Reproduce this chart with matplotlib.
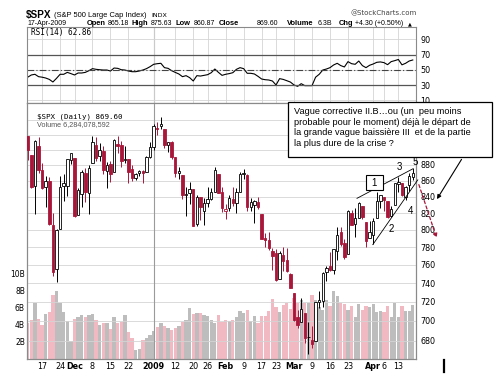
import matplotlib
matplotlib.use("Agg")
import matplotlib.pyplot as plt
import numpy as np
from matplotlib.patches import Rectangle, FancyArrowPatch
from matplotlib.lines import Line2D
from matplotlib.ticker import NullLocator, NullFormatter

# daily S&P 500, 11-Nov-2008 .. 17-Apr-2009
opens = [918.17, 893.39, 853.13, 904.36, 873.23, 852.34, 859.03, 805.87, 755.84, 801.20,
         853.40, 852.90, 886.89, 888.61, 817.94, 843.60, 869.75, 844.43, 882.71, 906.48,
         892.17, 898.35, 871.79, 881.07, 871.53, 908.16, 905.98, 886.96, 887.20, 874.31,
         863.87, 869.51, 872.37, 870.58, 890.59, 902.99, 929.17, 931.17, 927.45, 905.73,
         909.91, 890.40, 869.79, 867.28, 841.99, 844.45, 849.64, 806.77, 839.74, 822.16,
         832.50, 837.30, 845.73, 868.89, 845.69, 823.09, 825.69, 837.77, 831.75, 846.09,
         868.24, 866.87, 827.41, 829.91, 833.95, 818.61, 791.06, 787.91, 775.87, 773.25,
         744.69, 770.64, 765.76, 749.93, 729.57, 704.44, 698.60, 708.27, 684.04, 680.76,
         679.28, 720.02, 720.89, 751.97, 758.84, 753.88, 776.01, 797.92, 784.58, 772.31,
         820.60, 806.81, 814.06, 828.68, 809.07, 790.88, 793.59, 814.53, 835.13, 839.75,
         834.12, 816.76, 829.29, 855.33, 856.88, 839.44, 854.54, 865.18]
highs = [918.17, 893.39, 913.01, 916.88, 882.29, 865.90, 864.57, 820.52, 801.20, 865.60,
         868.94, 887.68, 896.25, 888.61, 850.54, 873.12, 875.60, 879.42, 918.57, 916.26,
         908.27, 904.63, 883.24, 884.63, 914.66, 918.85, 911.02, 905.47, 887.37, 880.44,
         869.79, 873.74, 873.70, 891.12, 910.32, 934.73, 936.63, 943.85, 927.45, 910.00,
         911.93, 890.40, 877.02, 867.28, 851.59, 858.13, 849.64, 841.72, 839.74, 838.61,
         852.53, 850.45, 877.86, 868.89, 851.66, 830.78, 842.60, 851.85, 850.55, 870.75,
         875.01, 868.05, 838.22, 835.48, 839.43, 818.61, 796.17, 797.58, 778.69, 777.85,
         775.49, 780.12, 779.42, 751.27, 729.57, 711.67, 724.12, 708.27, 699.09, 695.27,
         719.60, 731.92, 752.63, 758.29, 774.53, 778.12, 803.04, 803.24, 788.91, 823.37,
         823.65, 826.78, 832.98, 828.68, 809.07, 810.48, 813.62, 845.61, 842.50, 839.75,
         834.12, 828.42, 856.91, 864.31, 856.88, 852.93, 870.35, 875.63]
lows = [886.98, 850.48, 818.69, 869.88, 848.98, 826.84, 806.18, 747.78, 741.02, 801.20,
        834.99, 841.37, 881.21, 815.69, 817.94, 827.60, 833.60, 818.41, 882.71, 885.38,
        885.45, 868.73, 851.35, 857.72, 871.53, 895.94, 877.44, 883.02, 857.09, 860.10,
        861.44, 866.52, 857.07, 870.58, 889.67, 899.35, 919.53, 927.28, 902.37, 896.81,
        888.31, 864.32, 862.02, 836.93, 817.04, 830.66, 804.47, 804.30, 811.29, 806.07,
        827.69, 835.40, 845.73, 844.15, 821.67, 812.87, 821.98, 829.18, 819.91, 845.42,
        861.65, 822.99, 822.30, 808.06, 825.21, 789.17, 780.43, 777.03, 754.25, 742.37,
        744.69, 752.89, 751.75, 734.52, 699.70, 692.30, 698.60, 677.93, 666.79, 672.88,
        679.28, 713.85, 714.76, 742.46, 753.37, 749.93, 765.64, 781.82, 766.20, 772.31,
        805.48, 791.37, 814.06, 813.43, 779.81, 790.88, 783.32, 814.53, 826.70, 822.79,
        814.53, 814.84, 829.29, 845.35, 840.25, 835.58, 847.04, 860.87]
closes = [898.95, 852.30, 911.29, 873.29, 850.75, 859.12, 806.58, 752.44, 800.03, 851.81,
          857.39, 887.68, 896.24, 816.21, 848.81, 870.74, 845.22, 876.07, 909.70, 888.67,
          899.24, 873.59, 879.73, 868.57, 913.18, 904.42, 885.28, 887.88, 871.63, 863.16,
          868.15, 872.80, 869.42, 890.64, 903.25, 931.80, 927.45, 934.70, 906.65, 909.73,
          890.35, 870.26, 871.79, 842.62, 843.74, 850.12, 805.22, 840.24, 827.50, 831.95,
          836.57, 845.71, 874.09, 845.14, 825.88, 825.44, 838.51, 832.23, 845.85, 868.60,
          869.89, 827.16, 833.74, 835.19, 826.84, 789.17, 788.42, 778.94, 770.05, 743.33,
          773.14, 764.90, 752.83, 735.09, 700.82, 696.33, 712.87, 682.55, 683.38, 676.53,
          719.60, 721.36, 750.74, 756.55, 753.89, 778.12, 794.35, 784.04, 768.54, 822.92,
          806.12, 813.88, 832.86, 815.94, 787.53, 797.87, 811.08, 834.38, 842.50, 835.48,
          815.55, 825.16, 856.56, 858.73, 841.50, 852.06, 865.30, 869.60]
prev_close0 = 919.21

# volume, billions
volumes = [4.15, 4.6, 6.5, 4.7, 4.0, 5.2, 5.5, 7.5, 7.9, 6.5,
           5.5, 4.4, 2.1, 4.7, 4.85, 5.1, 4.9, 5.1, 5.2, 4.55,
           4.0, 4.2, 4.15, 3.45, 4.85, 4.15, 4.35, 5.1, 3.2, 2.4,
           1.05, 1.2, 2.2, 2.5, 2.8, 3.3, 3.75, 4.15, 3.8, 3.6,
           3.4, 3.6, 3.9, 4.3, 4.5, 5.9, 5.2, 5.4, 5.4, 5.1,
           5.0, 4.6, 4.2, 5.1, 4.3, 4.6, 4.45, 4.6, 4.85, 5.6,
           5.4, 5.7, 4.4, 5.0, 4.25, 5.0, 5.0, 5.6, 7.0, 6.1,
           5.5, 6.3, 6.5, 5.8, 7.1, 6.5, 6.9, 6.5, 6.5, 7.5,
           6.9, 6.05, 5.75, 6.9, 6.2, 8.0, 7.3, 6.5, 6.4, 5.75,
           6.2, 4.95, 6.4, 5.75, 6.2, 6.05, 6.4, 5.5, 5.6, 5.5,
           6.2, 4.95, 6.5, 4.95, 6.2, 5.6, 5.6, 6.28]

rsi = [40.3, 43.2, 44.1, 41.0, 40.3, 39.2, 37.4, 34.0, 38.8, 44.1,
       44.1, 46.6, 45.0, 43.2, 45.8, 45.8, 46.6, 48.8, 51.5, 50.6,
       50.1, 49.7, 49.7, 48.4, 52.3, 51.9, 50.1, 49.7, 48.4, 47.5,
       47.5, 48.4, 49.7, 51.5, 54.1, 57.2, 58.0, 58.5, 52.8, 51.9,
       48.8, 46.6, 44.5, 41.0, 42.3, 39.7, 35.3, 42.3, 41.8, 42.7,
       43.6, 46.2, 51.0, 46.6, 42.7, 44.1, 45.0, 46.2, 50.6, 52.8,
       51.5, 45.4, 45.4, 44.5, 41.4, 37.9, 37.0, 36.6, 35.3, 30.1,
       38.4, 37.4, 35.7, 33.9, 30.1, 28.3, 31.8, 29.2, 29.2, 29.2,
       40.3, 44.1, 49.7, 51.0, 52.8, 56.3, 58.5, 55.5, 53.7, 60.7,
       58.0, 57.2, 61.5, 55.5, 52.8, 55.9, 57.6, 59.8, 60.3, 59.4,
       56.7, 60.7, 62.0, 63.5, 56.5, 58.5, 61.5, 62.86]

# x axis labels (trading-day index)
tick_pos = [4, 9, 13, 18, 23, 28, 35, 41, 46, 50, 55, 60, 65, 69, 74, 79, 84, 89, 96, 99, 103]
tick_lab = ["17", "24", "Dec", "8", "15", "22", "2009", "12", "20", "26", "Feb", "9",
            "17", "23", "Mar", "9", "16", "23", "Apr", "6", "13"]
bold_lab = ["Dec", "2009", "Feb", "Mar", "Apr"]

price_ticks = [680, 700, 720, 740, 760, 780, 800, 820, 840, 860, 880, 900, 920, 940]
price_labeled = [680, 700, 720, 740, 760, 780, 800, 820, 840, 860, 880]
vol_ticks = [2, 4, 6, 8, 10]
rsi_ticks = [10, 30, 50, 70, 90]

# elliott wedge (index, price)
upper_x, upper_y = [91.5, 107.0], [838, 875]
lower_x, lower_y = [95.9, 108.4], [783, 861]

RED = "#a8163a"
W, H = 499, 378


def fx(x):
    return x / W


def fy(y):
    return 1 - y / H


fig = plt.figure(figsize=(W / 100, H / 100), dpi=100)
fig.patch.set_facecolor("white")

L, R = 27, 416
ax_rsi = fig.add_axes([fx(L), fy(103), (R - L) / W, (103 - 27) / H])
ax_vol = fig.add_axes([fx(L), fy(359), (R - L) / W, (359 - 103) / H])
ax = ax_vol.twinx()

xs = np.arange(len(closes))
prev = np.array([prev_close0] + closes[:-1])
c = np.array(closes)
o = np.array(opens)
up_day = c > prev
col = np.where(up_day, "black", RED)

# volume
vcol = np.where(up_day, "#bdbdbd", "#f1b9c2")
ax_vol.bar(xs, volumes, width=0.92, color=vcol, linewidth=0)
ax_vol.set_ylim(0, 29.9)
ax_vol.set_yticks(vol_ticks)
ax_vol.set_yticklabels([f"{v}B" for v in vol_ticks])
ax_vol.tick_params(axis="y", length=0, pad=1.5, labelsize=5.5)
xmin, xmax = -0.2, 107.9
ax_vol.set_xlim(xmin, xmax)
ax_vol.set_xticks(tick_pos)
ax_vol.set_xticklabels(tick_lab)
ax_vol.tick_params(axis="x", length=0, pad=2.5, labelsize=5.8)
for t in ax_vol.get_xticklabels():
    if t.get_text() in bold_lab:
        t.set_fontweight("bold")

# price candles
ax.set_yscale("log")
ax.set_ylim(662, 963.8)
ax.yaxis.set_minor_locator(NullLocator())
ax.yaxis.set_minor_formatter(NullFormatter())
ax.set_yticks(price_ticks)
ax.set_yticklabels([str(p) if p in price_labeled else "" for p in price_ticks])
ax.tick_params(axis="y", length=0, pad=3, labelsize=5.8)
ax.set_axisbelow(True)
ax.grid(True, color="#d4d4d4", lw=0.6)
ax.axvline(35, color="#9a9a9a", lw=0.8, zorder=0.6)

ax.vlines(xs, lows, highs, colors=col, lw=0.7, zorder=2)
bottoms = np.minimum(o, c)
heights = np.maximum(np.abs(c - o), 0.6)
face = [("white" if cc > oo else cl) for cc, oo, cl in zip(c, o, col)]
ax.bar(xs, heights, bottom=bottoms, width=0.68, color=face, edgecolor=col,
       linewidth=0.6, zorder=3)

ax.plot(upper_x, upper_y, color="black", lw=0.6, zorder=4, clip_on=False)
ax.plot(lower_x, lower_y, color="black", lw=0.6, zorder=4, clip_on=False)

# RSI panel
ax_rsi.plot(xs, rsi, color="black", lw=0.8)
ax_rsi.set_xlim(xmin, xmax)
ax_rsi.set_ylim(6.46, 106.1)
ax_rsi.set_xticks(tick_pos)
ax_rsi.set_xticklabels([])
ax_rsi.set_yticks(rsi_ticks)
ax_rsi.yaxis.tick_right()
ax_rsi.tick_params(axis="both", length=0, pad=3, labelsize=5.8)
ax_rsi.grid(True, color="#d4d4d4", lw=0.6)
ax_rsi.axvline(35, color="#9a9a9a", lw=0.8, zorder=0.6)
ax_rsi.axhline(70, color="#555555", lw=0.9)
ax_rsi.axhline(30, color="#555555", lw=0.9)
ax_rsi.axhline(50, color="#444444", lw=0.8, dashes=(6, 2, 1, 2))

for a in (ax_rsi, ax_vol, ax):
    for s in a.spines.values():
        s.set_color("#8a8a8a")
        s.set_linewidth(0.8)

# header
fig.text(fx(26), fy(15), "$SPX", fontsize=7.2, fontweight="bold",
         family="Liberation Sans", va="center")
fig.text(fx(54), fy(15.5), "(S&P 500 Large Cap Index)", fontsize=5.4,
         family="Liberation Sans", va="center")
fig.text(fx(151), fy(15.5), "INDX", fontsize=4.6, va="center")
fig.text(fx(417), fy(13), "@StockCharts.com", fontsize=5.0, color="#444444",
         ha="right", va="center")
hy = fy(23.5)
chg = closes[-1] - closes[-2]
hdr = [(27, "17-Apr-2009", "normal"), (87, "Open", "bold"), (107.5, f"{opens[-1]:.2f}", "normal"),
       (131.7, "High", "bold"), (150.7, f"{highs[-1]:.2f}", "normal"),
       (176, "Low", "bold"), (193.3, f"{lows[-1]:.2f}", "normal"),
       (218.3, "Close", "bold"), (256.7, f"{closes[-1]:.2f}", "normal"),
       (286.7, "Volume", "bold"), (318, f"{volumes[-1]:.1f}B", "normal"),
       (338.3, "Chg", "bold"), (355, f"+{chg:.2f} (+{chg / closes[-2] * 100:.2f}%)", "normal")]
for x, s, w in hdr:
    fig.text(fx(x), hy, s, fontsize=5.0 if w == "normal" else 5.4, fontweight=w,
             family="Liberation Sans", va="center")
fig.text(fx(408), hy, "\u25b2", fontsize=3.6, va="center")

fig.text(fx(31), fy(32), f"RSI(14) {rsi[-1]:.2f}", fontsize=5.6,
         family="DejaVu Sans Mono", va="center")
fig.text(fx(37), fy(117), f"$SPX (Daily) {closes[-1]:.2f}", fontsize=5.4,
         family="DejaVu Sans Mono", va="center")
fig.text(fx(37), fy(125), "Volume 6,284,078,592", fontsize=5.2, color="#555555",
         family="Liberation Sans", va="center")

# comment box
box = Rectangle((fx(288), fy(157)), (492 - 288) / W, (157 - 102) / H,
                transform=fig.transFigure, facecolor="white", edgecolor="black",
                lw=0.9, zorder=5)
fig.add_artist(box)
lines = ["Vague corrective II.B\u2026ou (un  peu moins",
         "probable pour le moment) d\u00e9j\u00e0 le d\u00e9part de",
         "la grande vague baissi\u00e8re III  et de la partie",
         "la plus dure de la crise ?"]
for i, s in enumerate(lines):
    fig.text(fx(294.5), fy(111.7 + 10.6 * i), s, fontsize=6.6, family="Liberation Sans",
             va="center", zorder=6)

box1 = Rectangle((fx(365.7), fy(190)), 17 / W, 15 / H, transform=fig.transFigure,
                 facecolor="white", edgecolor="black", lw=0.8, zorder=5)
fig.add_artist(box1)
for x, y, s in [(374.2, 183, "1"), (391.5, 228.5, "2"), (399, 167.5, "3"),
                (410, 210.5, "4"), (415.5, 162, "5")]:
    fig.text(fx(x), fy(y), s, fontsize=7, family="Liberation Sans", ha="center",
             va="center", zorder=6)

arr = FancyArrowPatch((fx(463), fy(157)), (fx(435.5), fy(201.5)),
                      transform=fig.transFigure, arrowstyle="-|>", mutation_scale=6,
                      color="black", lw=0.8, zorder=6)
fig.add_artist(arr)
arr2 = FancyArrowPatch((fx(418), fy(182)), (fx(437.5), fy(240.5)),
                       transform=fig.transFigure, arrowstyle="-|>", mutation_scale=6,
                       color=RED, lw=0.9, linestyle=(0, (2.5, 2)), zorder=6)
fig.add_artist(arr2)
fig.add_artist(Line2D([fx(444), fx(444)], [fy(360), fy(372)], transform=fig.transFigure,
                      color="black", lw=1.6))

fig.savefig("out.png", dpi=100)
